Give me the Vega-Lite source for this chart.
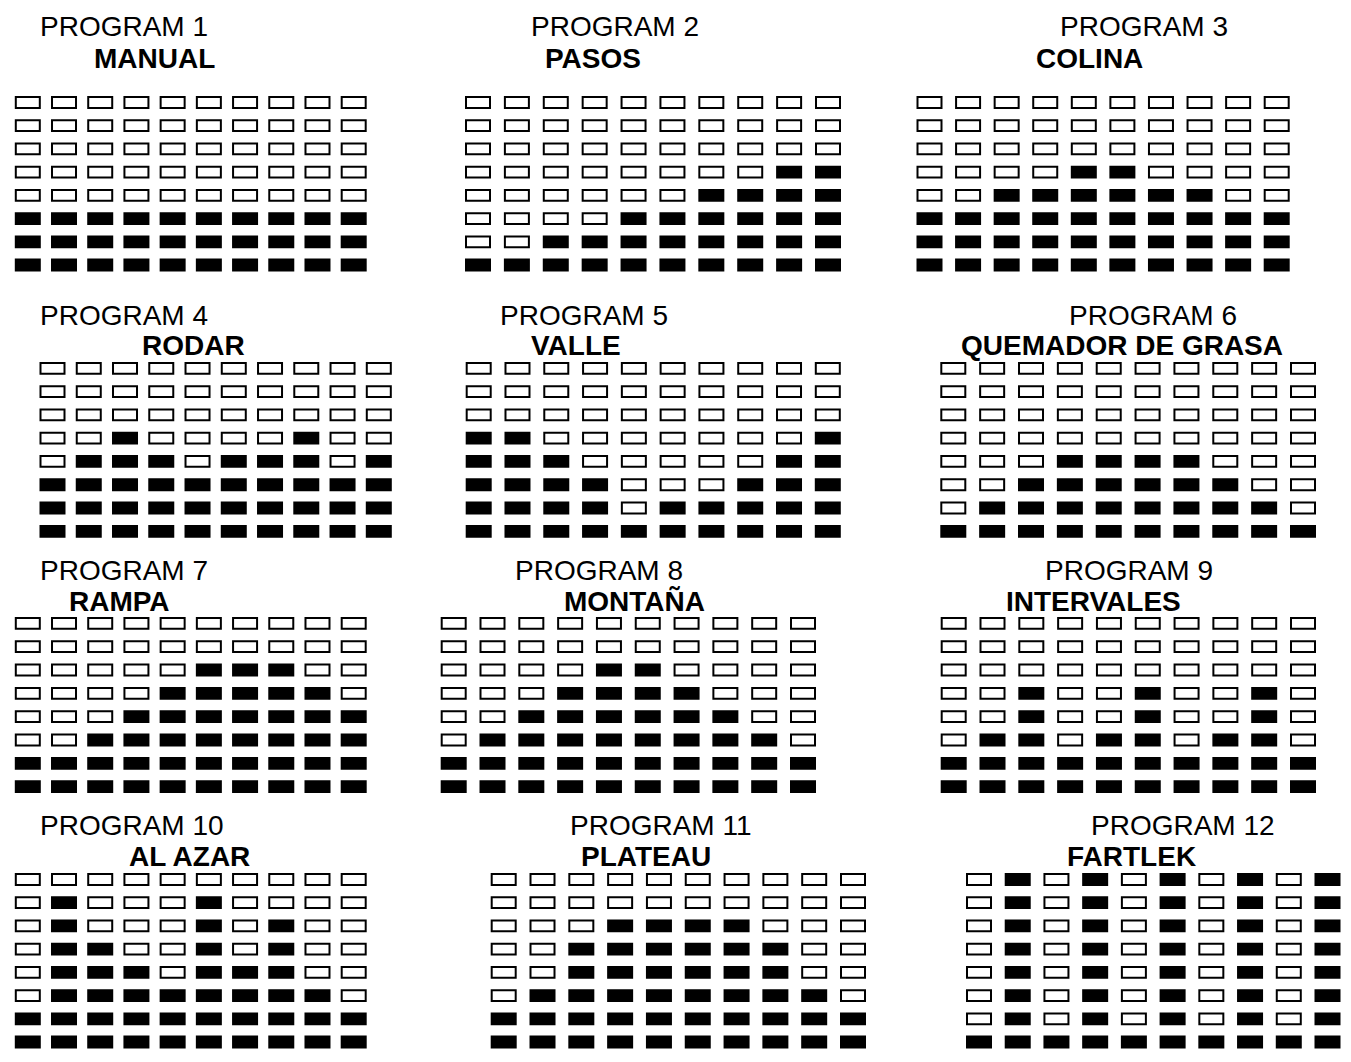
{
"$schema": "https://vega.github.io/schema/vega-lite/v6.json",
"padding": 0,
"spacing": 0,
"config": {
 "view": {"stroke": null},
 "concat": {"spacing": 0},
 "title": {"font": "Liberation Sans", "fontSize": 28, "color": "black", "anchor": "start", "subtitleFontSize": 28},
 "point": {"shape": "M-1,-0.45H1V0.45H-1Z", "size": 576, "filled": true, "stroke": "black", "strokeWidth": 2, "opacity": 1, "strokeOpacity": 1, "fillOpacity": 1}
},
"datasets": {
"p1": [
{"c":1,"r":1,"f":1},{"c":1,"r":2,"f":1},{"c":1,"r":3,"f":1},{"c":1,"r":4,"f":0},{"c":1,"r":5,"f":0},{"c":1,"r":6,"f":0},{"c":1,"r":7,"f":0},{"c":1,"r":8,"f":0},
{"c":2,"r":1,"f":1},{"c":2,"r":2,"f":1},{"c":2,"r":3,"f":1},{"c":2,"r":4,"f":0},{"c":2,"r":5,"f":0},{"c":2,"r":6,"f":0},{"c":2,"r":7,"f":0},{"c":2,"r":8,"f":0},
{"c":3,"r":1,"f":1},{"c":3,"r":2,"f":1},{"c":3,"r":3,"f":1},{"c":3,"r":4,"f":0},{"c":3,"r":5,"f":0},{"c":3,"r":6,"f":0},{"c":3,"r":7,"f":0},{"c":3,"r":8,"f":0},
{"c":4,"r":1,"f":1},{"c":4,"r":2,"f":1},{"c":4,"r":3,"f":1},{"c":4,"r":4,"f":0},{"c":4,"r":5,"f":0},{"c":4,"r":6,"f":0},{"c":4,"r":7,"f":0},{"c":4,"r":8,"f":0},
{"c":5,"r":1,"f":1},{"c":5,"r":2,"f":1},{"c":5,"r":3,"f":1},{"c":5,"r":4,"f":0},{"c":5,"r":5,"f":0},{"c":5,"r":6,"f":0},{"c":5,"r":7,"f":0},{"c":5,"r":8,"f":0},
{"c":6,"r":1,"f":1},{"c":6,"r":2,"f":1},{"c":6,"r":3,"f":1},{"c":6,"r":4,"f":0},{"c":6,"r":5,"f":0},{"c":6,"r":6,"f":0},{"c":6,"r":7,"f":0},{"c":6,"r":8,"f":0},
{"c":7,"r":1,"f":1},{"c":7,"r":2,"f":1},{"c":7,"r":3,"f":1},{"c":7,"r":4,"f":0},{"c":7,"r":5,"f":0},{"c":7,"r":6,"f":0},{"c":7,"r":7,"f":0},{"c":7,"r":8,"f":0},
{"c":8,"r":1,"f":1},{"c":8,"r":2,"f":1},{"c":8,"r":3,"f":1},{"c":8,"r":4,"f":0},{"c":8,"r":5,"f":0},{"c":8,"r":6,"f":0},{"c":8,"r":7,"f":0},{"c":8,"r":8,"f":0},
{"c":9,"r":1,"f":1},{"c":9,"r":2,"f":1},{"c":9,"r":3,"f":1},{"c":9,"r":4,"f":0},{"c":9,"r":5,"f":0},{"c":9,"r":6,"f":0},{"c":9,"r":7,"f":0},{"c":9,"r":8,"f":0},
{"c":10,"r":1,"f":1},{"c":10,"r":2,"f":1},{"c":10,"r":3,"f":1},{"c":10,"r":4,"f":0},{"c":10,"r":5,"f":0},{"c":10,"r":6,"f":0},{"c":10,"r":7,"f":0},{"c":10,"r":8,"f":0}
],
"p2": [
{"c":1,"r":1,"f":1},{"c":1,"r":2,"f":0},{"c":1,"r":3,"f":0},{"c":1,"r":4,"f":0},{"c":1,"r":5,"f":0},{"c":1,"r":6,"f":0},{"c":1,"r":7,"f":0},{"c":1,"r":8,"f":0},
{"c":2,"r":1,"f":1},{"c":2,"r":2,"f":0},{"c":2,"r":3,"f":0},{"c":2,"r":4,"f":0},{"c":2,"r":5,"f":0},{"c":2,"r":6,"f":0},{"c":2,"r":7,"f":0},{"c":2,"r":8,"f":0},
{"c":3,"r":1,"f":1},{"c":3,"r":2,"f":1},{"c":3,"r":3,"f":0},{"c":3,"r":4,"f":0},{"c":3,"r":5,"f":0},{"c":3,"r":6,"f":0},{"c":3,"r":7,"f":0},{"c":3,"r":8,"f":0},
{"c":4,"r":1,"f":1},{"c":4,"r":2,"f":1},{"c":4,"r":3,"f":0},{"c":4,"r":4,"f":0},{"c":4,"r":5,"f":0},{"c":4,"r":6,"f":0},{"c":4,"r":7,"f":0},{"c":4,"r":8,"f":0},
{"c":5,"r":1,"f":1},{"c":5,"r":2,"f":1},{"c":5,"r":3,"f":1},{"c":5,"r":4,"f":0},{"c":5,"r":5,"f":0},{"c":5,"r":6,"f":0},{"c":5,"r":7,"f":0},{"c":5,"r":8,"f":0},
{"c":6,"r":1,"f":1},{"c":6,"r":2,"f":1},{"c":6,"r":3,"f":1},{"c":6,"r":4,"f":0},{"c":6,"r":5,"f":0},{"c":6,"r":6,"f":0},{"c":6,"r":7,"f":0},{"c":6,"r":8,"f":0},
{"c":7,"r":1,"f":1},{"c":7,"r":2,"f":1},{"c":7,"r":3,"f":1},{"c":7,"r":4,"f":1},{"c":7,"r":5,"f":0},{"c":7,"r":6,"f":0},{"c":7,"r":7,"f":0},{"c":7,"r":8,"f":0},
{"c":8,"r":1,"f":1},{"c":8,"r":2,"f":1},{"c":8,"r":3,"f":1},{"c":8,"r":4,"f":1},{"c":8,"r":5,"f":0},{"c":8,"r":6,"f":0},{"c":8,"r":7,"f":0},{"c":8,"r":8,"f":0},
{"c":9,"r":1,"f":1},{"c":9,"r":2,"f":1},{"c":9,"r":3,"f":1},{"c":9,"r":4,"f":1},{"c":9,"r":5,"f":1},{"c":9,"r":6,"f":0},{"c":9,"r":7,"f":0},{"c":9,"r":8,"f":0},
{"c":10,"r":1,"f":1},{"c":10,"r":2,"f":1},{"c":10,"r":3,"f":1},{"c":10,"r":4,"f":1},{"c":10,"r":5,"f":1},{"c":10,"r":6,"f":0},{"c":10,"r":7,"f":0},{"c":10,"r":8,"f":0}
],
"p3": [
{"c":1,"r":1,"f":1},{"c":1,"r":2,"f":1},{"c":1,"r":3,"f":1},{"c":1,"r":4,"f":0},{"c":1,"r":5,"f":0},{"c":1,"r":6,"f":0},{"c":1,"r":7,"f":0},{"c":1,"r":8,"f":0},
{"c":2,"r":1,"f":1},{"c":2,"r":2,"f":1},{"c":2,"r":3,"f":1},{"c":2,"r":4,"f":0},{"c":2,"r":5,"f":0},{"c":2,"r":6,"f":0},{"c":2,"r":7,"f":0},{"c":2,"r":8,"f":0},
{"c":3,"r":1,"f":1},{"c":3,"r":2,"f":1},{"c":3,"r":3,"f":1},{"c":3,"r":4,"f":1},{"c":3,"r":5,"f":0},{"c":3,"r":6,"f":0},{"c":3,"r":7,"f":0},{"c":3,"r":8,"f":0},
{"c":4,"r":1,"f":1},{"c":4,"r":2,"f":1},{"c":4,"r":3,"f":1},{"c":4,"r":4,"f":1},{"c":4,"r":5,"f":0},{"c":4,"r":6,"f":0},{"c":4,"r":7,"f":0},{"c":4,"r":8,"f":0},
{"c":5,"r":1,"f":1},{"c":5,"r":2,"f":1},{"c":5,"r":3,"f":1},{"c":5,"r":4,"f":1},{"c":5,"r":5,"f":1},{"c":5,"r":6,"f":0},{"c":5,"r":7,"f":0},{"c":5,"r":8,"f":0},
{"c":6,"r":1,"f":1},{"c":6,"r":2,"f":1},{"c":6,"r":3,"f":1},{"c":6,"r":4,"f":1},{"c":6,"r":5,"f":1},{"c":6,"r":6,"f":0},{"c":6,"r":7,"f":0},{"c":6,"r":8,"f":0},
{"c":7,"r":1,"f":1},{"c":7,"r":2,"f":1},{"c":7,"r":3,"f":1},{"c":7,"r":4,"f":1},{"c":7,"r":5,"f":0},{"c":7,"r":6,"f":0},{"c":7,"r":7,"f":0},{"c":7,"r":8,"f":0},
{"c":8,"r":1,"f":1},{"c":8,"r":2,"f":1},{"c":8,"r":3,"f":1},{"c":8,"r":4,"f":1},{"c":8,"r":5,"f":0},{"c":8,"r":6,"f":0},{"c":8,"r":7,"f":0},{"c":8,"r":8,"f":0},
{"c":9,"r":1,"f":1},{"c":9,"r":2,"f":1},{"c":9,"r":3,"f":1},{"c":9,"r":4,"f":0},{"c":9,"r":5,"f":0},{"c":9,"r":6,"f":0},{"c":9,"r":7,"f":0},{"c":9,"r":8,"f":0},
{"c":10,"r":1,"f":1},{"c":10,"r":2,"f":1},{"c":10,"r":3,"f":1},{"c":10,"r":4,"f":0},{"c":10,"r":5,"f":0},{"c":10,"r":6,"f":0},{"c":10,"r":7,"f":0},{"c":10,"r":8,"f":0}
],
"p4": [
{"c":1,"r":1,"f":1},{"c":1,"r":2,"f":1},{"c":1,"r":3,"f":1},{"c":1,"r":4,"f":0},{"c":1,"r":5,"f":0},{"c":1,"r":6,"f":0},{"c":1,"r":7,"f":0},{"c":1,"r":8,"f":0},
{"c":2,"r":1,"f":1},{"c":2,"r":2,"f":1},{"c":2,"r":3,"f":1},{"c":2,"r":4,"f":1},{"c":2,"r":5,"f":0},{"c":2,"r":6,"f":0},{"c":2,"r":7,"f":0},{"c":2,"r":8,"f":0},
{"c":3,"r":1,"f":1},{"c":3,"r":2,"f":1},{"c":3,"r":3,"f":1},{"c":3,"r":4,"f":1},{"c":3,"r":5,"f":1},{"c":3,"r":6,"f":0},{"c":3,"r":7,"f":0},{"c":3,"r":8,"f":0},
{"c":4,"r":1,"f":1},{"c":4,"r":2,"f":1},{"c":4,"r":3,"f":1},{"c":4,"r":4,"f":1},{"c":4,"r":5,"f":0},{"c":4,"r":6,"f":0},{"c":4,"r":7,"f":0},{"c":4,"r":8,"f":0},
{"c":5,"r":1,"f":1},{"c":5,"r":2,"f":1},{"c":5,"r":3,"f":1},{"c":5,"r":4,"f":0},{"c":5,"r":5,"f":0},{"c":5,"r":6,"f":0},{"c":5,"r":7,"f":0},{"c":5,"r":8,"f":0},
{"c":6,"r":1,"f":1},{"c":6,"r":2,"f":1},{"c":6,"r":3,"f":1},{"c":6,"r":4,"f":1},{"c":6,"r":5,"f":0},{"c":6,"r":6,"f":0},{"c":6,"r":7,"f":0},{"c":6,"r":8,"f":0},
{"c":7,"r":1,"f":1},{"c":7,"r":2,"f":1},{"c":7,"r":3,"f":1},{"c":7,"r":4,"f":1},{"c":7,"r":5,"f":0},{"c":7,"r":6,"f":0},{"c":7,"r":7,"f":0},{"c":7,"r":8,"f":0},
{"c":8,"r":1,"f":1},{"c":8,"r":2,"f":1},{"c":8,"r":3,"f":1},{"c":8,"r":4,"f":1},{"c":8,"r":5,"f":1},{"c":8,"r":6,"f":0},{"c":8,"r":7,"f":0},{"c":8,"r":8,"f":0},
{"c":9,"r":1,"f":1},{"c":9,"r":2,"f":1},{"c":9,"r":3,"f":1},{"c":9,"r":4,"f":0},{"c":9,"r":5,"f":0},{"c":9,"r":6,"f":0},{"c":9,"r":7,"f":0},{"c":9,"r":8,"f":0},
{"c":10,"r":1,"f":1},{"c":10,"r":2,"f":1},{"c":10,"r":3,"f":1},{"c":10,"r":4,"f":1},{"c":10,"r":5,"f":0},{"c":10,"r":6,"f":0},{"c":10,"r":7,"f":0},{"c":10,"r":8,"f":0}
],
"p5": [
{"c":1,"r":1,"f":1},{"c":1,"r":2,"f":1},{"c":1,"r":3,"f":1},{"c":1,"r":4,"f":1},{"c":1,"r":5,"f":1},{"c":1,"r":6,"f":0},{"c":1,"r":7,"f":0},{"c":1,"r":8,"f":0},
{"c":2,"r":1,"f":1},{"c":2,"r":2,"f":1},{"c":2,"r":3,"f":1},{"c":2,"r":4,"f":1},{"c":2,"r":5,"f":1},{"c":2,"r":6,"f":0},{"c":2,"r":7,"f":0},{"c":2,"r":8,"f":0},
{"c":3,"r":1,"f":1},{"c":3,"r":2,"f":1},{"c":3,"r":3,"f":1},{"c":3,"r":4,"f":1},{"c":3,"r":5,"f":0},{"c":3,"r":6,"f":0},{"c":3,"r":7,"f":0},{"c":3,"r":8,"f":0},
{"c":4,"r":1,"f":1},{"c":4,"r":2,"f":1},{"c":4,"r":3,"f":1},{"c":4,"r":4,"f":0},{"c":4,"r":5,"f":0},{"c":4,"r":6,"f":0},{"c":4,"r":7,"f":0},{"c":4,"r":8,"f":0},
{"c":5,"r":1,"f":1},{"c":5,"r":2,"f":0},{"c":5,"r":3,"f":0},{"c":5,"r":4,"f":0},{"c":5,"r":5,"f":0},{"c":5,"r":6,"f":0},{"c":5,"r":7,"f":0},{"c":5,"r":8,"f":0},
{"c":6,"r":1,"f":1},{"c":6,"r":2,"f":1},{"c":6,"r":3,"f":0},{"c":6,"r":4,"f":0},{"c":6,"r":5,"f":0},{"c":6,"r":6,"f":0},{"c":6,"r":7,"f":0},{"c":6,"r":8,"f":0},
{"c":7,"r":1,"f":1},{"c":7,"r":2,"f":1},{"c":7,"r":3,"f":0},{"c":7,"r":4,"f":0},{"c":7,"r":5,"f":0},{"c":7,"r":6,"f":0},{"c":7,"r":7,"f":0},{"c":7,"r":8,"f":0},
{"c":8,"r":1,"f":1},{"c":8,"r":2,"f":1},{"c":8,"r":3,"f":1},{"c":8,"r":4,"f":0},{"c":8,"r":5,"f":0},{"c":8,"r":6,"f":0},{"c":8,"r":7,"f":0},{"c":8,"r":8,"f":0},
{"c":9,"r":1,"f":1},{"c":9,"r":2,"f":1},{"c":9,"r":3,"f":1},{"c":9,"r":4,"f":1},{"c":9,"r":5,"f":0},{"c":9,"r":6,"f":0},{"c":9,"r":7,"f":0},{"c":9,"r":8,"f":0},
{"c":10,"r":1,"f":1},{"c":10,"r":2,"f":1},{"c":10,"r":3,"f":1},{"c":10,"r":4,"f":1},{"c":10,"r":5,"f":1},{"c":10,"r":6,"f":0},{"c":10,"r":7,"f":0},{"c":10,"r":8,"f":0}
],
"p6": [
{"c":1,"r":1,"f":1},{"c":1,"r":2,"f":0},{"c":1,"r":3,"f":0},{"c":1,"r":4,"f":0},{"c":1,"r":5,"f":0},{"c":1,"r":6,"f":0},{"c":1,"r":7,"f":0},{"c":1,"r":8,"f":0},
{"c":2,"r":1,"f":1},{"c":2,"r":2,"f":1},{"c":2,"r":3,"f":0},{"c":2,"r":4,"f":0},{"c":2,"r":5,"f":0},{"c":2,"r":6,"f":0},{"c":2,"r":7,"f":0},{"c":2,"r":8,"f":0},
{"c":3,"r":1,"f":1},{"c":3,"r":2,"f":1},{"c":3,"r":3,"f":1},{"c":3,"r":4,"f":0},{"c":3,"r":5,"f":0},{"c":3,"r":6,"f":0},{"c":3,"r":7,"f":0},{"c":3,"r":8,"f":0},
{"c":4,"r":1,"f":1},{"c":4,"r":2,"f":1},{"c":4,"r":3,"f":1},{"c":4,"r":4,"f":1},{"c":4,"r":5,"f":0},{"c":4,"r":6,"f":0},{"c":4,"r":7,"f":0},{"c":4,"r":8,"f":0},
{"c":5,"r":1,"f":1},{"c":5,"r":2,"f":1},{"c":5,"r":3,"f":1},{"c":5,"r":4,"f":1},{"c":5,"r":5,"f":0},{"c":5,"r":6,"f":0},{"c":5,"r":7,"f":0},{"c":5,"r":8,"f":0},
{"c":6,"r":1,"f":1},{"c":6,"r":2,"f":1},{"c":6,"r":3,"f":1},{"c":6,"r":4,"f":1},{"c":6,"r":5,"f":0},{"c":6,"r":6,"f":0},{"c":6,"r":7,"f":0},{"c":6,"r":8,"f":0},
{"c":7,"r":1,"f":1},{"c":7,"r":2,"f":1},{"c":7,"r":3,"f":1},{"c":7,"r":4,"f":1},{"c":7,"r":5,"f":0},{"c":7,"r":6,"f":0},{"c":7,"r":7,"f":0},{"c":7,"r":8,"f":0},
{"c":8,"r":1,"f":1},{"c":8,"r":2,"f":1},{"c":8,"r":3,"f":1},{"c":8,"r":4,"f":0},{"c":8,"r":5,"f":0},{"c":8,"r":6,"f":0},{"c":8,"r":7,"f":0},{"c":8,"r":8,"f":0},
{"c":9,"r":1,"f":1},{"c":9,"r":2,"f":1},{"c":9,"r":3,"f":0},{"c":9,"r":4,"f":0},{"c":9,"r":5,"f":0},{"c":9,"r":6,"f":0},{"c":9,"r":7,"f":0},{"c":9,"r":8,"f":0},
{"c":10,"r":1,"f":1},{"c":10,"r":2,"f":0},{"c":10,"r":3,"f":0},{"c":10,"r":4,"f":0},{"c":10,"r":5,"f":0},{"c":10,"r":6,"f":0},{"c":10,"r":7,"f":0},{"c":10,"r":8,"f":0}
],
"p7": [
{"c":1,"r":1,"f":1},{"c":1,"r":2,"f":1},{"c":1,"r":3,"f":0},{"c":1,"r":4,"f":0},{"c":1,"r":5,"f":0},{"c":1,"r":6,"f":0},{"c":1,"r":7,"f":0},{"c":1,"r":8,"f":0},
{"c":2,"r":1,"f":1},{"c":2,"r":2,"f":1},{"c":2,"r":3,"f":0},{"c":2,"r":4,"f":0},{"c":2,"r":5,"f":0},{"c":2,"r":6,"f":0},{"c":2,"r":7,"f":0},{"c":2,"r":8,"f":0},
{"c":3,"r":1,"f":1},{"c":3,"r":2,"f":1},{"c":3,"r":3,"f":1},{"c":3,"r":4,"f":0},{"c":3,"r":5,"f":0},{"c":3,"r":6,"f":0},{"c":3,"r":7,"f":0},{"c":3,"r":8,"f":0},
{"c":4,"r":1,"f":1},{"c":4,"r":2,"f":1},{"c":4,"r":3,"f":1},{"c":4,"r":4,"f":1},{"c":4,"r":5,"f":0},{"c":4,"r":6,"f":0},{"c":4,"r":7,"f":0},{"c":4,"r":8,"f":0},
{"c":5,"r":1,"f":1},{"c":5,"r":2,"f":1},{"c":5,"r":3,"f":1},{"c":5,"r":4,"f":1},{"c":5,"r":5,"f":1},{"c":5,"r":6,"f":0},{"c":5,"r":7,"f":0},{"c":5,"r":8,"f":0},
{"c":6,"r":1,"f":1},{"c":6,"r":2,"f":1},{"c":6,"r":3,"f":1},{"c":6,"r":4,"f":1},{"c":6,"r":5,"f":1},{"c":6,"r":6,"f":1},{"c":6,"r":7,"f":0},{"c":6,"r":8,"f":0},
{"c":7,"r":1,"f":1},{"c":7,"r":2,"f":1},{"c":7,"r":3,"f":1},{"c":7,"r":4,"f":1},{"c":7,"r":5,"f":1},{"c":7,"r":6,"f":1},{"c":7,"r":7,"f":0},{"c":7,"r":8,"f":0},
{"c":8,"r":1,"f":1},{"c":8,"r":2,"f":1},{"c":8,"r":3,"f":1},{"c":8,"r":4,"f":1},{"c":8,"r":5,"f":1},{"c":8,"r":6,"f":1},{"c":8,"r":7,"f":0},{"c":8,"r":8,"f":0},
{"c":9,"r":1,"f":1},{"c":9,"r":2,"f":1},{"c":9,"r":3,"f":1},{"c":9,"r":4,"f":1},{"c":9,"r":5,"f":1},{"c":9,"r":6,"f":0},{"c":9,"r":7,"f":0},{"c":9,"r":8,"f":0},
{"c":10,"r":1,"f":1},{"c":10,"r":2,"f":1},{"c":10,"r":3,"f":1},{"c":10,"r":4,"f":1},{"c":10,"r":5,"f":0},{"c":10,"r":6,"f":0},{"c":10,"r":7,"f":0},{"c":10,"r":8,"f":0}
],
"p8": [
{"c":1,"r":1,"f":1},{"c":1,"r":2,"f":1},{"c":1,"r":3,"f":0},{"c":1,"r":4,"f":0},{"c":1,"r":5,"f":0},{"c":1,"r":6,"f":0},{"c":1,"r":7,"f":0},{"c":1,"r":8,"f":0},
{"c":2,"r":1,"f":1},{"c":2,"r":2,"f":1},{"c":2,"r":3,"f":1},{"c":2,"r":4,"f":0},{"c":2,"r":5,"f":0},{"c":2,"r":6,"f":0},{"c":2,"r":7,"f":0},{"c":2,"r":8,"f":0},
{"c":3,"r":1,"f":1},{"c":3,"r":2,"f":1},{"c":3,"r":3,"f":1},{"c":3,"r":4,"f":1},{"c":3,"r":5,"f":0},{"c":3,"r":6,"f":0},{"c":3,"r":7,"f":0},{"c":3,"r":8,"f":0},
{"c":4,"r":1,"f":1},{"c":4,"r":2,"f":1},{"c":4,"r":3,"f":1},{"c":4,"r":4,"f":1},{"c":4,"r":5,"f":1},{"c":4,"r":6,"f":0},{"c":4,"r":7,"f":0},{"c":4,"r":8,"f":0},
{"c":5,"r":1,"f":1},{"c":5,"r":2,"f":1},{"c":5,"r":3,"f":1},{"c":5,"r":4,"f":1},{"c":5,"r":5,"f":1},{"c":5,"r":6,"f":1},{"c":5,"r":7,"f":0},{"c":5,"r":8,"f":0},
{"c":6,"r":1,"f":1},{"c":6,"r":2,"f":1},{"c":6,"r":3,"f":1},{"c":6,"r":4,"f":1},{"c":6,"r":5,"f":1},{"c":6,"r":6,"f":1},{"c":6,"r":7,"f":0},{"c":6,"r":8,"f":0},
{"c":7,"r":1,"f":1},{"c":7,"r":2,"f":1},{"c":7,"r":3,"f":1},{"c":7,"r":4,"f":1},{"c":7,"r":5,"f":1},{"c":7,"r":6,"f":0},{"c":7,"r":7,"f":0},{"c":7,"r":8,"f":0},
{"c":8,"r":1,"f":1},{"c":8,"r":2,"f":1},{"c":8,"r":3,"f":1},{"c":8,"r":4,"f":1},{"c":8,"r":5,"f":0},{"c":8,"r":6,"f":0},{"c":8,"r":7,"f":0},{"c":8,"r":8,"f":0},
{"c":9,"r":1,"f":1},{"c":9,"r":2,"f":1},{"c":9,"r":3,"f":1},{"c":9,"r":4,"f":0},{"c":9,"r":5,"f":0},{"c":9,"r":6,"f":0},{"c":9,"r":7,"f":0},{"c":9,"r":8,"f":0},
{"c":10,"r":1,"f":1},{"c":10,"r":2,"f":1},{"c":10,"r":3,"f":0},{"c":10,"r":4,"f":0},{"c":10,"r":5,"f":0},{"c":10,"r":6,"f":0},{"c":10,"r":7,"f":0},{"c":10,"r":8,"f":0}
],
"p9": [
{"c":1,"r":1,"f":1},{"c":1,"r":2,"f":1},{"c":1,"r":3,"f":0},{"c":1,"r":4,"f":0},{"c":1,"r":5,"f":0},{"c":1,"r":6,"f":0},{"c":1,"r":7,"f":0},{"c":1,"r":8,"f":0},
{"c":2,"r":1,"f":1},{"c":2,"r":2,"f":1},{"c":2,"r":3,"f":1},{"c":2,"r":4,"f":0},{"c":2,"r":5,"f":0},{"c":2,"r":6,"f":0},{"c":2,"r":7,"f":0},{"c":2,"r":8,"f":0},
{"c":3,"r":1,"f":1},{"c":3,"r":2,"f":1},{"c":3,"r":3,"f":1},{"c":3,"r":4,"f":1},{"c":3,"r":5,"f":1},{"c":3,"r":6,"f":0},{"c":3,"r":7,"f":0},{"c":3,"r":8,"f":0},
{"c":4,"r":1,"f":1},{"c":4,"r":2,"f":1},{"c":4,"r":3,"f":0},{"c":4,"r":4,"f":0},{"c":4,"r":5,"f":0},{"c":4,"r":6,"f":0},{"c":4,"r":7,"f":0},{"c":4,"r":8,"f":0},
{"c":5,"r":1,"f":1},{"c":5,"r":2,"f":1},{"c":5,"r":3,"f":1},{"c":5,"r":4,"f":0},{"c":5,"r":5,"f":0},{"c":5,"r":6,"f":0},{"c":5,"r":7,"f":0},{"c":5,"r":8,"f":0},
{"c":6,"r":1,"f":1},{"c":6,"r":2,"f":1},{"c":6,"r":3,"f":1},{"c":6,"r":4,"f":1},{"c":6,"r":5,"f":1},{"c":6,"r":6,"f":0},{"c":6,"r":7,"f":0},{"c":6,"r":8,"f":0},
{"c":7,"r":1,"f":1},{"c":7,"r":2,"f":1},{"c":7,"r":3,"f":0},{"c":7,"r":4,"f":0},{"c":7,"r":5,"f":0},{"c":7,"r":6,"f":0},{"c":7,"r":7,"f":0},{"c":7,"r":8,"f":0},
{"c":8,"r":1,"f":1},{"c":8,"r":2,"f":1},{"c":8,"r":3,"f":1},{"c":8,"r":4,"f":0},{"c":8,"r":5,"f":0},{"c":8,"r":6,"f":0},{"c":8,"r":7,"f":0},{"c":8,"r":8,"f":0},
{"c":9,"r":1,"f":1},{"c":9,"r":2,"f":1},{"c":9,"r":3,"f":1},{"c":9,"r":4,"f":1},{"c":9,"r":5,"f":1},{"c":9,"r":6,"f":0},{"c":9,"r":7,"f":0},{"c":9,"r":8,"f":0},
{"c":10,"r":1,"f":1},{"c":10,"r":2,"f":1},{"c":10,"r":3,"f":0},{"c":10,"r":4,"f":0},{"c":10,"r":5,"f":0},{"c":10,"r":6,"f":0},{"c":10,"r":7,"f":0},{"c":10,"r":8,"f":0}
],
"p10": [
{"c":1,"r":1,"f":1},{"c":1,"r":2,"f":1},{"c":1,"r":3,"f":0},{"c":1,"r":4,"f":0},{"c":1,"r":5,"f":0},{"c":1,"r":6,"f":0},{"c":1,"r":7,"f":0},{"c":1,"r":8,"f":0},
{"c":2,"r":1,"f":1},{"c":2,"r":2,"f":1},{"c":2,"r":3,"f":1},{"c":2,"r":4,"f":1},{"c":2,"r":5,"f":1},{"c":2,"r":6,"f":1},{"c":2,"r":7,"f":1},{"c":2,"r":8,"f":0},
{"c":3,"r":1,"f":1},{"c":3,"r":2,"f":1},{"c":3,"r":3,"f":1},{"c":3,"r":4,"f":1},{"c":3,"r":5,"f":1},{"c":3,"r":6,"f":0},{"c":3,"r":7,"f":0},{"c":3,"r":8,"f":0},
{"c":4,"r":1,"f":1},{"c":4,"r":2,"f":1},{"c":4,"r":3,"f":1},{"c":4,"r":4,"f":1},{"c":4,"r":5,"f":0},{"c":4,"r":6,"f":0},{"c":4,"r":7,"f":0},{"c":4,"r":8,"f":0},
{"c":5,"r":1,"f":1},{"c":5,"r":2,"f":1},{"c":5,"r":3,"f":1},{"c":5,"r":4,"f":0},{"c":5,"r":5,"f":0},{"c":5,"r":6,"f":0},{"c":5,"r":7,"f":0},{"c":5,"r":8,"f":0},
{"c":6,"r":1,"f":1},{"c":6,"r":2,"f":1},{"c":6,"r":3,"f":1},{"c":6,"r":4,"f":1},{"c":6,"r":5,"f":1},{"c":6,"r":6,"f":1},{"c":6,"r":7,"f":1},{"c":6,"r":8,"f":0},
{"c":7,"r":1,"f":1},{"c":7,"r":2,"f":1},{"c":7,"r":3,"f":1},{"c":7,"r":4,"f":1},{"c":7,"r":5,"f":0},{"c":7,"r":6,"f":0},{"c":7,"r":7,"f":0},{"c":7,"r":8,"f":0},
{"c":8,"r":1,"f":1},{"c":8,"r":2,"f":1},{"c":8,"r":3,"f":1},{"c":8,"r":4,"f":1},{"c":8,"r":5,"f":1},{"c":8,"r":6,"f":1},{"c":8,"r":7,"f":0},{"c":8,"r":8,"f":0},
{"c":9,"r":1,"f":1},{"c":9,"r":2,"f":1},{"c":9,"r":3,"f":1},{"c":9,"r":4,"f":0},{"c":9,"r":5,"f":0},{"c":9,"r":6,"f":0},{"c":9,"r":7,"f":0},{"c":9,"r":8,"f":0},
{"c":10,"r":1,"f":1},{"c":10,"r":2,"f":1},{"c":10,"r":3,"f":0},{"c":10,"r":4,"f":0},{"c":10,"r":5,"f":0},{"c":10,"r":6,"f":0},{"c":10,"r":7,"f":0},{"c":10,"r":8,"f":0}
],
"p11": [
{"c":1,"r":1,"f":1},{"c":1,"r":2,"f":1},{"c":1,"r":3,"f":0},{"c":1,"r":4,"f":0},{"c":1,"r":5,"f":0},{"c":1,"r":6,"f":0},{"c":1,"r":7,"f":0},{"c":1,"r":8,"f":0},
{"c":2,"r":1,"f":1},{"c":2,"r":2,"f":1},{"c":2,"r":3,"f":1},{"c":2,"r":4,"f":0},{"c":2,"r":5,"f":0},{"c":2,"r":6,"f":0},{"c":2,"r":7,"f":0},{"c":2,"r":8,"f":0},
{"c":3,"r":1,"f":1},{"c":3,"r":2,"f":1},{"c":3,"r":3,"f":1},{"c":3,"r":4,"f":1},{"c":3,"r":5,"f":1},{"c":3,"r":6,"f":0},{"c":3,"r":7,"f":0},{"c":3,"r":8,"f":0},
{"c":4,"r":1,"f":1},{"c":4,"r":2,"f":1},{"c":4,"r":3,"f":1},{"c":4,"r":4,"f":1},{"c":4,"r":5,"f":1},{"c":4,"r":6,"f":1},{"c":4,"r":7,"f":0},{"c":4,"r":8,"f":0},
{"c":5,"r":1,"f":1},{"c":5,"r":2,"f":1},{"c":5,"r":3,"f":1},{"c":5,"r":4,"f":1},{"c":5,"r":5,"f":1},{"c":5,"r":6,"f":1},{"c":5,"r":7,"f":0},{"c":5,"r":8,"f":0},
{"c":6,"r":1,"f":1},{"c":6,"r":2,"f":1},{"c":6,"r":3,"f":1},{"c":6,"r":4,"f":1},{"c":6,"r":5,"f":1},{"c":6,"r":6,"f":1},{"c":6,"r":7,"f":0},{"c":6,"r":8,"f":0},
{"c":7,"r":1,"f":1},{"c":7,"r":2,"f":1},{"c":7,"r":3,"f":1},{"c":7,"r":4,"f":1},{"c":7,"r":5,"f":1},{"c":7,"r":6,"f":1},{"c":7,"r":7,"f":0},{"c":7,"r":8,"f":0},
{"c":8,"r":1,"f":1},{"c":8,"r":2,"f":1},{"c":8,"r":3,"f":1},{"c":8,"r":4,"f":1},{"c":8,"r":5,"f":1},{"c":8,"r":6,"f":0},{"c":8,"r":7,"f":0},{"c":8,"r":8,"f":0},
{"c":9,"r":1,"f":1},{"c":9,"r":2,"f":1},{"c":9,"r":3,"f":1},{"c":9,"r":4,"f":0},{"c":9,"r":5,"f":0},{"c":9,"r":6,"f":0},{"c":9,"r":7,"f":0},{"c":9,"r":8,"f":0},
{"c":10,"r":1,"f":1},{"c":10,"r":2,"f":1},{"c":10,"r":3,"f":0},{"c":10,"r":4,"f":0},{"c":10,"r":5,"f":0},{"c":10,"r":6,"f":0},{"c":10,"r":7,"f":0},{"c":10,"r":8,"f":0}
],
"p12": [
{"c":1,"r":1,"f":1},{"c":1,"r":2,"f":0},{"c":1,"r":3,"f":0},{"c":1,"r":4,"f":0},{"c":1,"r":5,"f":0},{"c":1,"r":6,"f":0},{"c":1,"r":7,"f":0},{"c":1,"r":8,"f":0},
{"c":2,"r":1,"f":1},{"c":2,"r":2,"f":1},{"c":2,"r":3,"f":1},{"c":2,"r":4,"f":1},{"c":2,"r":5,"f":1},{"c":2,"r":6,"f":1},{"c":2,"r":7,"f":1},{"c":2,"r":8,"f":1},
{"c":3,"r":1,"f":1},{"c":3,"r":2,"f":0},{"c":3,"r":3,"f":0},{"c":3,"r":4,"f":0},{"c":3,"r":5,"f":0},{"c":3,"r":6,"f":0},{"c":3,"r":7,"f":0},{"c":3,"r":8,"f":0},
{"c":4,"r":1,"f":1},{"c":4,"r":2,"f":1},{"c":4,"r":3,"f":1},{"c":4,"r":4,"f":1},{"c":4,"r":5,"f":1},{"c":4,"r":6,"f":1},{"c":4,"r":7,"f":1},{"c":4,"r":8,"f":1},
{"c":5,"r":1,"f":1},{"c":5,"r":2,"f":0},{"c":5,"r":3,"f":0},{"c":5,"r":4,"f":0},{"c":5,"r":5,"f":0},{"c":5,"r":6,"f":0},{"c":5,"r":7,"f":0},{"c":5,"r":8,"f":0},
{"c":6,"r":1,"f":1},{"c":6,"r":2,"f":1},{"c":6,"r":3,"f":1},{"c":6,"r":4,"f":1},{"c":6,"r":5,"f":1},{"c":6,"r":6,"f":1},{"c":6,"r":7,"f":1},{"c":6,"r":8,"f":1},
{"c":7,"r":1,"f":1},{"c":7,"r":2,"f":0},{"c":7,"r":3,"f":0},{"c":7,"r":4,"f":0},{"c":7,"r":5,"f":0},{"c":7,"r":6,"f":0},{"c":7,"r":7,"f":0},{"c":7,"r":8,"f":0},
{"c":8,"r":1,"f":1},{"c":8,"r":2,"f":1},{"c":8,"r":3,"f":1},{"c":8,"r":4,"f":1},{"c":8,"r":5,"f":1},{"c":8,"r":6,"f":1},{"c":8,"r":7,"f":1},{"c":8,"r":8,"f":1},
{"c":9,"r":1,"f":1},{"c":9,"r":2,"f":0},{"c":9,"r":3,"f":0},{"c":9,"r":4,"f":0},{"c":9,"r":5,"f":0},{"c":9,"r":6,"f":0},{"c":9,"r":7,"f":0},{"c":9,"r":8,"f":0},
{"c":10,"r":1,"f":1},{"c":10,"r":2,"f":1},{"c":10,"r":3,"f":1},{"c":10,"r":4,"f":1},{"c":10,"r":5,"f":1},{"c":10,"r":6,"f":1},{"c":10,"r":7,"f":1},{"c":10,"r":8,"f":1}
]
},
"vconcat": [
{"spacing": 0, "hconcat": [
 {"title": {"text": "PROGRAM 1", "fontWeight": "normal", "dx": 40, "offset": -42},
  "vconcat": [{"title": {"text": "MANUAL", "fontWeight": "bold", "dx": 94, "offset": -74},
   "width": 430, "height": 290, "data": {"name": "p1"}, "mark": {"type": "point"},
   "encoding": {
    "x": {"field": "c", "type": "quantitative", "scale": {"domain": [1, 10], "range": [27.8, 353.7]}, "axis": null},
    "y": {"field": "r", "type": "quantitative", "scale": {"domain": [1, 8], "range": [265, 102.5]}, "axis": null},
    "fill": {"field": "f", "type": "nominal", "scale": {"domain": [0, 1], "range": ["white", "black"]}, "legend": null}}}]},
 {"title": {"text": "PROGRAM 2", "fontWeight": "normal", "dx": 101, "offset": -42},
  "vconcat": [{"title": {"text": "PASOS", "fontWeight": "bold", "dx": 115, "offset": -74},
   "width": 470, "height": 290, "data": {"name": "p2"}, "mark": {"type": "point"},
   "encoding": {
    "x": {"field": "c", "type": "quantitative", "scale": {"domain": [1, 10], "range": [48, 398]}, "axis": null},
    "y": {"field": "r", "type": "quantitative", "scale": {"domain": [1, 8], "range": [265, 102.5]}, "axis": null},
    "fill": {"field": "f", "type": "nominal", "scale": {"domain": [0, 1], "range": ["white", "black"]}, "legend": null}}}]},
 {"title": {"text": "PROGRAM 3", "fontWeight": "normal", "dx": 160, "offset": -42},
  "vconcat": [{"title": {"text": "COLINA", "fontWeight": "bold", "dx": 136, "offset": -74},
   "width": 451, "height": 290, "data": {"name": "p3"}, "mark": {"type": "point"},
   "encoding": {
    "x": {"field": "c", "type": "quantitative", "scale": {"domain": [1, 10], "range": [29.5, 376.7]}, "axis": null},
    "y": {"field": "r", "type": "quantitative", "scale": {"domain": [1, 8], "range": [265, 102.5]}, "axis": null},
    "fill": {"field": "f", "type": "nominal", "scale": {"domain": [0, 1], "range": ["white", "black"]}, "legend": null}}}]}
]},
{"spacing": 0, "hconcat": [
 {"title": {"text": "PROGRAM 4", "fontWeight": "normal", "dx": 40, "offset": -41},
  "vconcat": [{"title": {"text": "RODAR", "fontWeight": "bold", "dx": 142, "offset": -71},
   "width": 430, "height": 255, "data": {"name": "p4"}, "mark": {"type": "point"},
   "encoding": {
    "x": {"field": "c", "type": "quantitative", "scale": {"domain": [1, 10], "range": [52.5, 378.8]}, "axis": null},
    "y": {"field": "r", "type": "quantitative", "scale": {"domain": [1, 8], "range": [241.3, 78.3]}, "axis": null},
    "fill": {"field": "f", "type": "nominal", "scale": {"domain": [0, 1], "range": ["white", "black"]}, "legend": null}}}]},
 {"title": {"text": "PROGRAM 5", "fontWeight": "normal", "dx": 70, "offset": -41},
  "vconcat": [{"title": {"text": "VALLE", "fontWeight": "bold", "dx": 101, "offset": -71},
   "width": 470, "height": 255, "data": {"name": "p5"}, "mark": {"type": "point"},
   "encoding": {
    "x": {"field": "c", "type": "quantitative", "scale": {"domain": [1, 10], "range": [48.7, 397.8]}, "axis": null},
    "y": {"field": "r", "type": "quantitative", "scale": {"domain": [1, 8], "range": [241.3, 78.3]}, "axis": null},
    "fill": {"field": "f", "type": "nominal", "scale": {"domain": [0, 1], "range": ["white", "black"]}, "legend": null}}}]},
 {"title": {"text": "PROGRAM 6", "fontWeight": "normal", "dx": 169, "offset": -41},
  "vconcat": [{"title": {"text": "QUEMADOR DE GRASA", "fontWeight": "bold", "dx": 61, "offset": -71},
   "width": 451, "height": 255, "data": {"name": "p6"}, "mark": {"type": "point"},
   "encoding": {
    "x": {"field": "c", "type": "quantitative", "scale": {"domain": [1, 10], "range": [53.3, 403]}, "axis": null},
    "y": {"field": "r", "type": "quantitative", "scale": {"domain": [1, 8], "range": [241.3, 78.3]}, "axis": null},
    "fill": {"field": "f", "type": "nominal", "scale": {"domain": [0, 1], "range": ["white", "black"]}, "legend": null}}}]}
]},
{"spacing": 0, "hconcat": [
 {"title": {"text": "PROGRAM 7", "fontWeight": "normal", "dx": 40, "offset": -41},
  "vconcat": [{"title": {"text": "RAMPA", "fontWeight": "bold", "dx": 69, "offset": -72},
   "width": 430, "height": 260, "data": {"name": "p7"}, "mark": {"type": "point"},
   "encoding": {
    "x": {"field": "c", "type": "quantitative", "scale": {"domain": [1, 10], "range": [27.8, 353.7]}, "axis": null},
    "y": {"field": "r", "type": "quantitative", "scale": {"domain": [1, 8], "range": [241.7, 78.3]}, "axis": null},
    "fill": {"field": "f", "type": "nominal", "scale": {"domain": [0, 1], "range": ["white", "black"]}, "legend": null}}}]},
 {"title": {"text": "PROGRAM 8", "fontWeight": "normal", "dx": 85, "offset": -41},
  "vconcat": [{"title": {"text": "MONTAÑA", "fontWeight": "bold", "dx": 134, "offset": -72},
   "width": 470, "height": 260, "data": {"name": "p8"}, "mark": {"type": "point"},
   "encoding": {
    "x": {"field": "c", "type": "quantitative", "scale": {"domain": [1, 10], "range": [23.7, 373]}, "axis": null},
    "y": {"field": "r", "type": "quantitative", "scale": {"domain": [1, 8], "range": [241.7, 78.3]}, "axis": null},
    "fill": {"field": "f", "type": "nominal", "scale": {"domain": [0, 1], "range": ["white", "black"]}, "legend": null}}}]},
 {"title": {"text": "PROGRAM 9", "fontWeight": "normal", "dx": 145, "offset": -41},
  "vconcat": [{"title": {"text": "INTERVALES", "fontWeight": "bold", "dx": 106, "offset": -72},
   "width": 451, "height": 260, "data": {"name": "p9"}, "mark": {"type": "point"},
   "encoding": {
    "x": {"field": "c", "type": "quantitative", "scale": {"domain": [1, 10], "range": [53.7, 403]}, "axis": null},
    "y": {"field": "r", "type": "quantitative", "scale": {"domain": [1, 8], "range": [241.7, 78.3]}, "axis": null},
    "fill": {"field": "f", "type": "nominal", "scale": {"domain": [0, 1], "range": ["white", "black"]}, "legend": null}}}]}
]},
{"spacing": 0, "hconcat": [
 {"title": {"text": "PROGRAM 10", "fontWeight": "normal", "dx": 40, "offset": -36},
  "vconcat": [{"title": {"text": "AL AZAR", "fontWeight": "bold", "dx": 129, "offset": -67},
   "width": 430, "height": 257, "data": {"name": "p10"}, "mark": {"type": "point"},
   "encoding": {
    "x": {"field": "c", "type": "quantitative", "scale": {"domain": [1, 10], "range": [27.8, 353.7]}, "axis": null},
    "y": {"field": "r", "type": "quantitative", "scale": {"domain": [1, 8], "range": [237, 74.5]}, "axis": null},
    "fill": {"field": "f", "type": "nominal", "scale": {"domain": [0, 1], "range": ["white", "black"]}, "legend": null}}}]},
 {"title": {"text": "PROGRAM 11", "fontWeight": "normal", "dx": 140, "offset": -36},
  "vconcat": [{"title": {"text": "PLATEAU", "fontWeight": "bold", "dx": 151, "offset": -67},
   "width": 470, "height": 257, "data": {"name": "p11"}, "mark": {"type": "point"},
   "encoding": {
    "x": {"field": "c", "type": "quantitative", "scale": {"domain": [1, 10], "range": [73.7, 423]}, "axis": null},
    "y": {"field": "r", "type": "quantitative", "scale": {"domain": [1, 8], "range": [237, 74.5]}, "axis": null},
    "fill": {"field": "f", "type": "nominal", "scale": {"domain": [0, 1], "range": ["white", "black"]}, "legend": null}}}]},
 {"title": {"text": "PROGRAM 12", "fontWeight": "normal", "dx": 191, "offset": -36},
  "vconcat": [{"title": {"text": "FARTLEK", "fontWeight": "bold", "dx": 167, "offset": -67},
   "width": 451, "height": 257, "data": {"name": "p12"}, "mark": {"type": "point"},
   "encoding": {
    "x": {"field": "c", "type": "quantitative", "scale": {"domain": [1, 10], "range": [79, 427.5]}, "axis": null},
    "y": {"field": "r", "type": "quantitative", "scale": {"domain": [1, 8], "range": [237, 74.5]}, "axis": null},
    "fill": {"field": "f", "type": "nominal", "scale": {"domain": [0, 1], "range": ["white", "black"]}, "legend": null}}}]}
]}
]
}
